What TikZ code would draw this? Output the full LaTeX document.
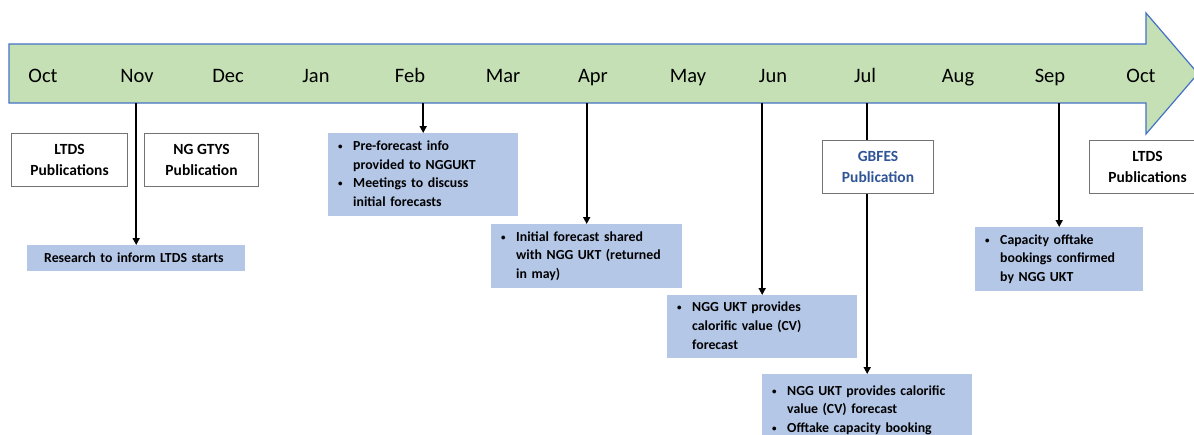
\documentclass[tikz,border=0pt]{standalone}
\usepackage{fontspec}
\setmainfont{Carlito}
\usetikzlibrary{arrows.meta,positioning}
\definecolor{bargreen}{HTML}{C5E0B4}
\definecolor{baredge}{HTML}{4472C4}
\definecolor{boxblue}{HTML}{B4C7E7}
\definecolor{pubblue}{HTML}{2F5597}
\newcommand{\bl}{\raisebox{1.2pt}{\fontsize{9}{9}\selectfont\textbullet}}

\begin{document}
\begin{tikzpicture}[x=1pt, y=1pt,
  month/.style={font=\fontsize{20.5}{24}\selectfont, anchor=base},
  pubbox/.style={draw=gray!90!black, fill=white, line width=1.1pt, anchor=north west,
    align=center, inner sep=0pt, minimum height=53, font=\bfseries\fontsize{15.5}{21.5}\selectfont},
  infobox/.style={fill=boxblue, anchor=north west, align=left, inner xsep=10pt, inner ysep=0pt,
    font=\bfseries\fontsize{13.8}{18.7}\selectfont},
  link/.style={line width=1.8pt},
  arr/.style={link, -{Triangle[length=7pt, width=7pt]}}]
\useasboundingbox (0,0) rectangle (1194,-434);
% ---- timeline bar
\draw[baredge, fill=bargreen, line width=1.2pt] (9,-44) -- (1146,-44) -- (1146,-13)
  -- (1198,-73.5) -- (1146,-134) -- (1146,-103) -- (9,-103) -- cycle;
\coordinate (barS) at (0,-103);
\foreach \x/\m [count=\i] in {43/Oct,137/Nov,228/Dec,316/Jan,410/Feb,503/Mar,593/Apr,
  688/May,773/Jun,865/Jul,958/Aug,1050/Sep,1141/Oct}
  \node[month] (m\i) at (\x,-82) {\m};
% ---- publications
\node[pubbox, minimum width=116] (ltdsL) at (11,-133) {LTDS\\Publications};
\node[pubbox, minimum width=114] (gtys) at (144,-133) {NG GTYS\\Publication};
\node[pubbox, minimum width=111, text=pubblue] (gbfes) at (822,-140) {GBFES\\Publication};
\node[pubbox, minimum width=116] (ltdsR) at (1089,-140) {LTDS\\Publications};
% ---- activities
\node[infobox, inner xsep=17pt, text width=184, minimum height=26] (research) at (27,-245)
  {Research to inform LTDS starts};
\node[infobox, text width=170, minimum height=83] (prefc) at (328,-133)
  {\begin{tabular}{@{}p{15pt}@{}l@{}}
   \bl & Pre-forecast info\\ & provided to NGGUKT\\
   \bl & Meetings to discuss\\ & initial forecasts
   \end{tabular}};
\node[infobox, text width=171, minimum height=64] (initfc) at (491,-224)
  {\begin{tabular}{@{}p{15pt}@{}l@{}}
   \bl & Initial forecast shared\\ & with NGG UKT (returned\\ & in may)
   \end{tabular}};
\node[infobox, text width=170, minimum height=63] (cvfc) at (667,-295)
  {\begin{tabular}{@{}p{15pt}@{}l@{}}
   \bl & NGG UKT provides\\ & calorific value (CV)\\ & forecast
   \end{tabular}};
\node[infobox, text width=190, minimum height=72] (cvbook) at (762,-374)
  {\begin{tabular}{@{}p{15pt}@{}l@{}}
   \bl & NGG UKT provides calorific\\ & value (CV) forecast\\
   \bl & Offtake capacity booking
   \end{tabular}};
\node[infobox, text width=148, minimum height=64] (capbook) at (975,-227)
  {\begin{tabular}{@{}p{15pt}@{}l@{}}
   \bl & Capacity offtake\\ & bookings confirmed\\ & by NGG UKT
   \end{tabular}};
% ---- connectors
\draw[arr] (research.north |- barS) -- (research.north);
\draw[arr] (prefc.north |- barS) -- (prefc.north);
\draw[arr] (initfc.north |- barS) -- (initfc.north);
\draw[arr] (cvfc.north |- barS) -- (cvfc.north);
\draw[link] (cvbook.north |- barS) -- (cvbook.north |- gbfes.north);
\draw[arr] (cvbook.north |- gbfes.south) -- (cvbook.north);
\draw[arr] (capbook.north |- barS) -- (capbook.north);
\end{tikzpicture}
\end{document}
